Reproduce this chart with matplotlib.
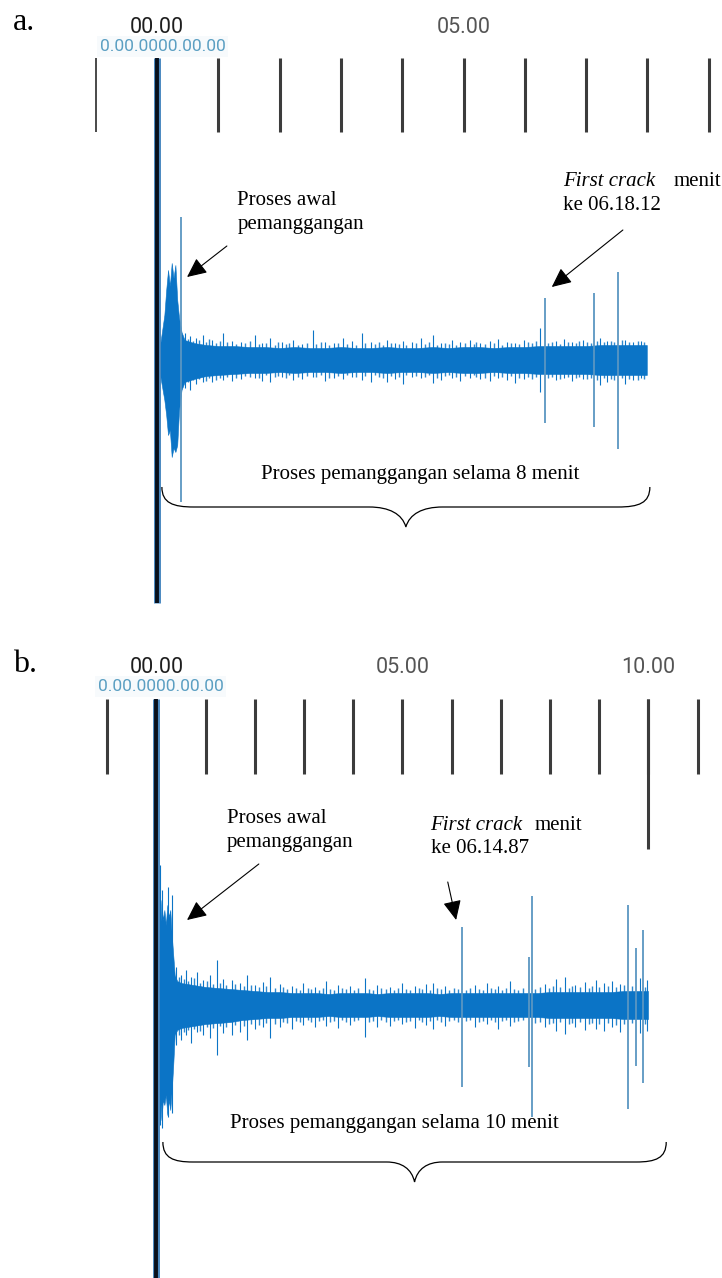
import matplotlib
matplotlib.use('Agg')
import matplotlib.pyplot as plt
from matplotlib.path import Path
from matplotlib.patches import PathPatch

# ---------------- data (time in minutes, amplitude in relative units) ----------------
# panel a: 8 minute roast
ruler_a = [-1, 1, 2, 3, 4, 5, 6, 7, 8, 9]
ruler_labels_a = {0: '00.00', 5: '05.00'}

core_t_a = [0.03, 0.05, 0.12, 0.15, 0.18, 0.21, 0.24, 0.27, 0.30, 0.33, 0.36, 0.40, 0.45, 0.6,
            0.8, 1.0, 1.25, 1.5, 1.75, 2.0, 2.25, 2.5, 2.75, 3.0, 3.25, 3.5, 3.75, 4.0, 4.25,
            4.5, 4.75, 5.0, 5.25, 5.5, 5.75, 6.0, 6.25, 6.5, 6.75, 7.0, 7.25, 7.5, 7.75, 7.99]
core_hi_a = [0.10, 0.15, 0.45, 0.70, 0.90, 0.74, 0.97, 0.82, 0.95, 0.60, 0.42, 0.28, 0.20, 0.17,
             0.15, 0.14, 0.14, 0.13, 0.13, 0.12, 0.13, 0.12, 0.12, 0.13, 0.12, 0.12, 0.13, 0.12, 0.12,
             0.13, 0.12, 0.13, 0.13, 0.12, 0.13, 0.13, 0.14, 0.14, 0.14, 0.14, 0.15, 0.15, 0.15, 0.15]
core_lo_a = [-0.10, -0.15, -0.40, -0.55, -0.75, -0.70, -0.97, -0.88, -0.92, -0.85, -0.50, -0.30, -0.22, -0.19,
             -0.16, -0.15, -0.14, -0.13, -0.13, -0.12, -0.13, -0.12, -0.12, -0.13, -0.12, -0.12, -0.13, -0.12, -0.12,
             -0.13, -0.12, -0.13, -0.13, -0.12, -0.13, -0.13, -0.14, -0.14, -0.14, -0.14, -0.15, -0.15, -0.15, -0.15]

hair_t_a = [0.46, 0.54, 0.64, 0.75, 0.90, 1.08, 1.22, 1.37, 1.60, 1.71, 1.84, 2.04, 2.22, 2.37,
            2.54, 2.74, 2.89, 3.03, 3.18, 3.34, 3.49, 3.75, 3.88, 4.01, 4.16, 4.31, 4.50, 4.63,
            4.81, 4.94, 5.11, 5.27, 5.43, 5.56, 5.71, 5.84, 5.99, 6.25, 6.51, 6.64, 6.77, 6.95,
            7.23, 7.34, 7.63, 7.77, 7.90]
hair_up_a = [0.27, 0.24, 0.22, 0.25, 0.20, 0.27, 0.19, 0.18, 0.25, 0.17, 0.22, 0.18, 0.20, 0.16,
             0.30, 0.18, 0.17, 0.22, 0.19, 0.27, 0.18, 0.20, 0.17, 0.19, 0.18, 0.22, 0.25, 0.17,
             0.20, 0.18, 0.20, 0.17, 0.19, 0.21, 0.18, 0.17, 0.20, 0.32, 0.19, 0.21, 0.18, 0.20,
             0.22, 0.19, 0.20, 0.18, 0.19]
hair_dn_a = [-0.28, -0.30, -0.24, -0.22, -0.22, -0.20, -0.21, -0.19, -0.18, -0.21, -0.22, -0.17, -0.20, -0.19,
             -0.17, -0.21, -0.18, -0.19, -0.17, -0.20, -0.22, -0.22, -0.19, -0.24, -0.17, -0.18, -0.23, -0.20,
             -0.18, -0.21, -0.18, -0.19, -0.21, -0.18, -0.20, -0.23, -0.19, -0.32, -0.20, -0.18, -0.21, -0.19,
             -0.25, -0.22, -0.24, -0.20, -0.18]

# finer fringe hairs just outside the dense band
fringe_t_a = [0.50, 0.58, 0.69, 0.80, 0.85, 0.97, 1.03, 1.14, 1.29, 1.44, 1.52, 1.66, 1.78, 1.92,
              1.98, 2.10, 2.16, 2.30, 2.45, 2.60, 2.68, 2.81, 2.96, 3.10, 3.24, 3.40, 3.56, 3.62,
              3.69, 3.81, 3.95, 4.07, 4.22, 4.37, 4.43, 4.56, 4.70, 4.76, 4.87, 5.02, 5.17, 5.21,
              5.35, 5.49, 5.63, 5.77, 5.91, 6.05, 6.12, 6.19, 6.38, 6.45, 6.57, 6.70, 6.83, 6.89,
              7.02, 7.08, 7.17, 7.29, 7.40, 7.46, 7.58, 7.70, 7.84, 7.94]
fringe_up_a = [0.21, 0.19, 0.20, 0.18, 0.21, 0.17, 0.19, 0.18, 0.16, 0.17, 0.19, 0.16, 0.17, 0.15,
               0.18, 0.16, 0.17, 0.15, 0.17, 0.16, 0.18, 0.15, 0.17, 0.16, 0.15, 0.17, 0.16, 0.18,
               0.15, 0.17, 0.16, 0.15, 0.17, 0.16, 0.18, 0.15, 0.17, 0.16, 0.15, 0.17, 0.16, 0.18,
               0.16, 0.17, 0.15, 0.17, 0.16, 0.18, 0.17, 0.19, 0.17, 0.18, 0.16, 0.18, 0.17, 0.19,
               0.18, 0.17, 0.19, 0.18, 0.19, 0.18, 0.20, 0.18, 0.19, 0.18]
fringe_dn_a = [-0.22, -0.20, -0.19, -0.21, -0.18, -0.20, -0.18, -0.17, -0.18, -0.16, -0.17, -0.18, -0.15, -0.17,
               -0.16, -0.18, -0.15, -0.17, -0.16, -0.17, -0.15, -0.18, -0.16, -0.15, -0.17, -0.16, -0.15, -0.17,
               -0.18, -0.16, -0.17, -0.15, -0.16, -0.17, -0.15, -0.18, -0.16, -0.15, -0.17, -0.16, -0.15, -0.17,
               -0.18, -0.16, -0.17, -0.16, -0.18, -0.17, -0.19, -0.17, -0.18, -0.17, -0.19, -0.17, -0.18, -0.17,
               -0.19, -0.18, -0.20, -0.18, -0.19, -0.20, -0.18, -0.19, -0.20, -0.19]

spike_t_a = [0.39, 6.33, 7.13, 7.52]
spike_up_a = [1.43, 0.62, 0.67, 0.88]
spike_dn_a = [-1.42, -0.63, -0.67, -0.89]

# panel b: 10 minute roast
ruler_b = [-1, 1, 2, 3, 4, 5, 6, 7, 8, 9, 10, 11]
ruler_labels_b = {0: '00.00', 5: '05.00', 10: '10.00'}

core_t_b = [0.03, 0.06, 0.10, 0.13, 0.16, 0.19, 0.22, 0.25, 0.28, 0.31, 0.34, 0.37, 0.42, 0.5,
            0.75, 1.0, 1.25, 1.5, 1.75, 2.0, 2.25, 2.5, 2.75, 3.0, 3.25, 3.5, 3.75, 4.0, 4.25,
            4.5, 4.75, 5.0, 5.25, 5.5, 5.75, 6.0, 6.25, 6.5, 6.75, 7.0, 7.25, 7.5, 7.75, 8.0,
            8.25, 8.5, 8.75, 9.0, 9.25, 9.5, 9.75, 9.99]
core_hi_b = [0.30, 0.60, 1.05, 0.85, 0.95, 0.80, 1.00, 0.88, 0.95, 0.70, 0.50, 0.30, 0.24, 0.22,
             0.20, 0.18, 0.17, 0.16, 0.15, 0.14, 0.13, 0.13, 0.12, 0.12, 0.12, 0.11, 0.12, 0.12, 0.12,
             0.11, 0.12, 0.12, 0.12, 0.12, 0.11, 0.12, 0.12, 0.12, 0.12, 0.12, 0.12, 0.12, 0.12, 0.13,
             0.13, 0.13, 0.13, 0.13, 0.13, 0.14, 0.14, 0.14]
core_lo_b = [-0.40, -0.80, -1.15, -0.95, -1.00, -0.90, -1.10, -0.95, -1.05, -0.85, -0.60, -0.30, -0.25, -0.23,
             -0.21, -0.19, -0.18, -0.17, -0.15, -0.14, -0.13, -0.13, -0.12, -0.12, -0.12, -0.11, -0.12, -0.12, -0.12,
             -0.11, -0.12, -0.12, -0.12, -0.12, -0.11, -0.12, -0.12, -0.12, -0.12, -0.12, -0.12, -0.12, -0.12, -0.13,
             -0.13, -0.13, -0.13, -0.13, -0.13, -0.14, -0.14, -0.14]

hair_t_b = [0.07, 0.12, 0.23, 0.31, 0.40, 0.50, 0.60, 0.70, 0.82, 0.95, 1.09, 1.23, 1.35, 1.53,
            1.70, 1.84, 2.00, 2.16, 2.31, 2.51, 2.75, 2.98, 3.22, 3.45, 3.69, 3.93, 4.24, 4.48,
            4.74, 4.98, 5.25, 5.48, 5.62, 5.86, 6.47, 6.72, 6.94, 7.18, 7.90, 8.12, 8.30, 8.50,
            8.71, 8.93, 9.10, 9.26, 9.42, 9.83, 9.97]
hair_up_b = [1.40, 1.15, 1.18, 1.10, 0.38, 0.30, 0.35, 0.28, 0.33, 0.25, 0.30, 0.45, 0.26, 0.25,
             0.22, 0.30, 0.20, 0.23, 0.28, 0.21, 0.19, 0.22, 0.18, 0.24, 0.20, 0.19, 0.27, 0.20,
             0.18, 0.22, 0.19, 0.21, 0.22, 0.19, 0.20, 0.22, 0.19, 0.24, 0.21, 0.26, 0.28, 0.20,
             0.23, 0.25, 0.22, 0.24, 0.21, 0.27, 0.25]
hair_dn_b = [-1.20, -1.23, -1.12, -1.08, -0.40, -0.35, -0.30, -0.38, -0.27, -0.30, -0.33, -0.50, -0.28, -0.30,
             -0.27, -0.35, -0.24, -0.22, -0.33, -0.22, -0.24, -0.20, -0.22, -0.21, -0.23, -0.20, -0.32, -0.22,
             -0.21, -0.19, -0.23, -0.20, -0.24, -0.21, -0.22, -0.19, -0.24, -0.21, -0.22, -0.26, -0.29, -0.22,
             -0.25, -0.24, -0.26, -0.22, -0.27, -0.28, -0.26]

fringe_t_b = [0.45, 0.55, 0.65, 0.76, 0.88, 1.02, 1.15, 1.29, 1.42, 1.60, 1.77, 1.92, 2.08, 2.23,
              2.40, 2.58, 2.66, 2.83, 2.91, 3.07, 3.15, 3.30, 3.38, 3.53, 3.61, 3.77, 3.85, 4.02,
              4.10, 4.32, 4.40, 4.57, 4.66, 4.82, 4.90, 5.07, 5.15, 5.33, 5.40, 5.55, 5.70, 5.78,
              5.95, 6.05, 6.13, 6.30, 6.38, 6.55, 6.63, 6.80, 6.87, 7.03, 7.10, 7.27, 7.35, 7.45,
              7.70, 7.80, 7.98, 8.05, 8.20, 8.38, 8.44, 8.60, 8.80, 8.86, 9.00, 9.18, 9.34, 9.50,
              9.66, 9.92]
fringe_up_b = [0.28, 0.26, 0.24, 0.27, 0.22, 0.24, 0.21, 0.22, 0.20, 0.21, 0.19, 0.20, 0.18, 0.19,
               0.17, 0.18, 0.16, 0.17, 0.15, 0.17, 0.16, 0.15, 0.17, 0.16, 0.15, 0.17, 0.16, 0.15,
               0.17, 0.16, 0.15, 0.17, 0.16, 0.15, 0.17, 0.16, 0.15, 0.17, 0.16, 0.15, 0.17, 0.16,
               0.15, 0.17, 0.16, 0.15, 0.17, 0.16, 0.15, 0.17, 0.16, 0.15, 0.17, 0.16, 0.15, 0.17,
               0.16, 0.18, 0.17, 0.19, 0.18, 0.17, 0.19, 0.18, 0.17, 0.19, 0.18, 0.19, 0.18, 0.20,
               0.19, 0.18]
fringe_dn_b = [-0.30, -0.27, -0.25, -0.24, -0.26, -0.22, -0.23, -0.21, -0.22, -0.20, -0.21, -0.19, -0.20, -0.18,
               -0.19, -0.17, -0.18, -0.16, -0.17, -0.15, -0.17, -0.16, -0.15, -0.17, -0.16, -0.15, -0.17, -0.16,
               -0.15, -0.17, -0.16, -0.15, -0.17, -0.16, -0.15, -0.17, -0.16, -0.15, -0.17, -0.16, -0.15, -0.17,
               -0.16, -0.15, -0.17, -0.16, -0.15, -0.17, -0.16, -0.15, -0.17, -0.16, -0.15, -0.17, -0.16, -0.15,
               -0.18, -0.17, -0.19, -0.18, -0.17, -0.19, -0.18, -0.17, -0.19, -0.18, -0.19, -0.18, -0.20, -0.19,
               -0.18, -0.19]

spike_t_b = [6.21, 7.57, 7.63, 9.58, 9.75, 9.89]
spike_up_b = [0.78, 0.48, 1.09, 1.00, 0.57, 0.75]
spike_dn_b = [-0.82, -0.62, -1.12, -1.04, -0.61, -0.78]

# ---------------- style ----------------
WAVE = '#0b74c6'
SPIKE = '#5a96c2'
TICK = '#3c3c3c'
SERIF = 'Liberation Serif'
SANS = 'Roboto'
H = 1278.0


def draw_brace(ax, x0, x1, ytop, ymid, ytip, w_end, w_mid):
    xm = (x0 + x1) / 2
    dt = ytop - ymid
    dm = ymid - ytip
    verts = [(x0, ytop),
             (x0, ymid + 0.2 * dt), (x0 + 0.35 * w_end, ymid), (x0 + w_end, ymid),
             (xm - w_mid, ymid),
             (xm - 0.45 * w_mid, ymid), (xm - 0.1 * w_mid, ymid - 0.35 * dm), (xm, ytip),
             (xm + 0.1 * w_mid, ymid - 0.35 * dm), (xm + 0.45 * w_mid, ymid), (xm + w_mid, ymid),
             (x1 - w_end, ymid),
             (x1 - 0.35 * w_end, ymid), (x1, ymid + 0.2 * dt), (x1, ytop)]
    codes = [Path.MOVETO] + [Path.CURVE4] * 3 + [Path.LINETO] + [Path.CURVE4] * 6 + \
            [Path.LINETO] + [Path.CURVE4] * 3
    ax.add_patch(PathPatch(Path(verts, codes), fc='none', ec='black', lw=0.9))


def draw_panel(ax, ruler, ruler_labels, core_t, core_hi, core_lo, hairs, fringe, spikes,
               tick_top, tick_bot, label_y, blue_y, play_bot, first_tick_lw):
    # ruler ticks
    for i, m in enumerate(ruler):
        lw = first_tick_lw if i == 0 else 2.2
        ax.plot([m, m], [tick_bot, tick_top], color=TICK, lw=lw, solid_capstyle='butt')
    for m, lab in ruler_labels.items():
        col = '#1e1e1e' if m == 0 else '#555555'
        ax.text(m, label_y, lab, ha='center', va='baseline', fontsize=15.5,
                family=SANS, color=col)
    ax.text(0.09, blue_y, '0.00.0000.00.00', ha='center', va='baseline', fontsize=12.5,
            family=SANS, color='#5b9fc2',
            bbox=dict(boxstyle='square,pad=0.15', fc='#f7fafc', ec='none'))

    # waveform
    ax.fill_between(core_t, core_lo, core_hi, color=WAVE, lw=0.4, zorder=3)
    ax.vlines(fringe[0], fringe[2], fringe[1], color=WAVE, lw=1.0, alpha=0.85, zorder=3)
    ax.vlines(hairs[0], hairs[2], hairs[1], color=WAVE, lw=0.8, zorder=3)
    ax.vlines(spikes[0], spikes[2], spikes[1], color=SPIKE, lw=1.3, zorder=3)

    # playhead
    ax.plot([0, 0], [play_bot, tick_top], color='#4a88c0', lw=5.0,
            solid_capstyle='butt', zorder=5)
    ax.plot([0, 0], [play_bot, tick_top], color='#08101c', lw=2.8,
            solid_capstyle='butt', zorder=6)


def arrow(ax, tail, tip):
    ax.annotate('', xy=tip, xytext=tail,
                arrowprops=dict(arrowstyle='-|>,head_length=0.6,head_width=0.28',
                                mutation_scale=20, color='black', lw=0.8,
                                shrinkA=0, shrinkB=0))


fig = plt.figure(figsize=(7.22, 12.78), dpi=100)
ax_a = fig.add_axes([0, 1 - 620 / H, 1, 620 / H])
ax_b = fig.add_axes([0, 0, 1, 658 / H])

# ---------------- panel a ----------------
ax_a.set_xlim(-157 / 61.3, (722 - 157) / 61.3)
ax_a.set_ylim(-2.60, 3.60)
draw_panel(ax_a, ruler_a, ruler_labels_a, core_t_a, core_hi_a, core_lo_a,
           (hair_t_a, hair_up_a, hair_dn_a), (fringe_t_a, fringe_up_a, fringe_dn_a),
           (spike_t_a, spike_up_a, spike_dn_a),
           tick_top=3.02, tick_bot=2.28, label_y=3.27, blue_y=3.09, play_bot=-2.43,
           first_tick_lw=1.3)

ax_a.text(1.31, 1.55, 'Proses awal', fontsize=15, family=SERIF, va='baseline')
ax_a.text(1.31, 1.31, 'pemanggangan', fontsize=15, family=SERIF, va='baseline')
arrow(ax_a, (1.14, 1.14), (0.49, 0.83))
ax_a.text(6.62, 1.74, 'First crack', fontsize=15, family=SERIF, style='italic', va='baseline')
ax_a.text(8.43, 1.74, 'menit', fontsize=15, family=SERIF, va='baseline')
ax_a.text(6.63, 1.50, 'ke 06.18.12', fontsize=15, family=SERIF, va='baseline')
arrow(ax_a, (7.60, 1.30), (6.44, 0.73))
ax_a.text(4.29, -1.19, 'Proses pemanggangan selama 8 menit', fontsize=15, family=SERIF,
          ha='center', va='baseline')
draw_brace(ax_a, 0.08, 8.04, -1.27, -1.47, -1.67, 0.52, 0.60)

# ---------------- panel b ----------------
ax_b.set_xlim(-156.5 / 49.2, (722 - 156.5) / 49.2)
ax_b.set_ylim(-2.73, 3.85)
draw_panel(ax_b, ruler_b, ruler_labels_b, core_t_b, core_hi_b, core_lo_b,
           (hair_t_b, hair_up_b, hair_dn_b), (fringe_t_b, fringe_up_b, fringe_dn_b),
           (spike_t_b, spike_up_b, spike_dn_b),
           tick_top=3.06, tick_bot=2.31, label_y=3.32, blue_y=3.14, play_bot=-2.73,
           first_tick_lw=2.2)
# longer tick at minute 10
ax_b.plot([10, 10], [1.56, 3.06], color=TICK, lw=2.2, solid_capstyle='butt')

ax_b.text(1.43, 1.82, 'Proses awal', fontsize=15, family=SERIF, va='baseline')
ax_b.text(1.43, 1.58, 'pemanggangan', fontsize=15, family=SERIF, va='baseline')
arrow(ax_b, (2.08, 1.41), (0.62, 0.85))
ax_b.text(5.56, 1.75, 'First crack', fontsize=15, family=SERIF, style='italic', va='baseline')
ax_b.text(7.69, 1.75, 'menit', fontsize=15, family=SERIF, va='baseline')
ax_b.text(5.57, 1.52, 'ke 06.14.87', fontsize=15, family=SERIF, va='baseline')
arrow(ax_b, (5.92, 1.23), (6.09, 0.85))
ax_b.text(4.83, -1.23, 'Proses pemanggangan selama 10 menit', fontsize=15, family=SERIF,
          ha='center', va='baseline')
draw_brace(ax_b, 0.13, 10.36, -1.37, -1.57, -1.77, 0.61, 0.57)

for ax in (ax_a, ax_b):
    ax.set_axis_off()

fig.text(13 / 722, 1 - 30 / H, 'a.', fontsize=23, family=SERIF, va='baseline')
fig.text(13 / 722, 1 - 672 / H, 'b.', fontsize=23, family=SERIF, va='baseline')

fig.savefig('out.png', dpi=100, facecolor='white')
